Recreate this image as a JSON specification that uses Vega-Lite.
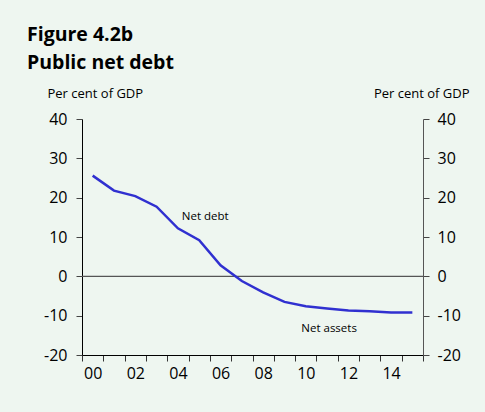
{
  "$schema": "https://vega.github.io/schema/vega-lite/v6.json",
  "width": 341,
  "height": 236,
  "autosize": {"type": "none"},
  "padding": {"left": 82, "top": 119, "right": 62, "bottom": 57},
  "background": "#eef6f0",
  "config": {
    "view": {"stroke": null},
    "font": "Open Sans",
    "axis": {"grid": false, "labelFont": "Open Sans", "titleFont": "Open Sans", "labelColor": "#000", "titleColor": "#000"}
  },
  "title": {
    "text": ["Figure 4.2b", "Public net debt"],
    "anchor": "start",
    "frame": "group",
    "font": "Open Sans",
    "fontSize": 19.5,
    "fontWeight": "bold",
    "color": "#000",
    "lineHeight": 28,
    "dx": -55,
    "offset": 14
  },
  "datasets": {
    "debt": [
      {"year": "2000", "value": 25.6},
      {"year": "2001", "value": 21.8},
      {"year": "2002", "value": 20.4},
      {"year": "2003", "value": 17.7},
      {"year": "2004", "value": 12.2},
      {"year": "2005", "value": 9.2},
      {"year": "2006", "value": 2.8},
      {"year": "2007", "value": -1.2},
      {"year": "2008", "value": -4.1},
      {"year": "2009", "value": -6.5},
      {"year": "2010", "value": -7.6},
      {"year": "2011", "value": -8.2},
      {"year": "2012", "value": -8.7},
      {"year": "2013", "value": -8.9},
      {"year": "2014", "value": -9.2},
      {"year": "2015", "value": -9.2}
    ],
    "zero": [{"value": 0}],
    "lab1": [{"year": "2005", "value": 15.2, "label": "Net debt"}],
    "lab2": [{"year": "2011", "value": -13.3, "label": "Net assets"}]
  },
  "layer": [
    {
      "data": {"name": "zero"},
      "mark": {"type": "rule", "color": "#555", "strokeWidth": 1.2},
      "encoding": {
        "y": {
          "field": "value",
          "type": "quantitative",
          "scale": {"domain": [-20, 40], "nice": false},
          "axis": {
            "orient": "left",
            "values": [-20, -10, 0, 10, 20, 30, 40],
            "labelExpr": "'' + datum.value",
            "labelFontSize": 16,
            "labelPadding": 9,
            "tickSize": 6,
            "tickColor": "#444",
            "domainColor": "#000",
            "title": "Per cent of GDP",
            "titleAngle": 0,
            "titleAlign": "left",
            "titleBaseline": "alphabetic",
            "titleFontSize": 13,
            "titleFontWeight": "normal",
            "titleX": -35,
            "titleY": -22
          }
        }
      }
    },
    {
      "data": {"name": "debt"},
      "mark": {"type": "line", "color": "#3030d0", "strokeWidth": 2.5},
      "encoding": {
        "x": {
          "field": "year",
          "type": "ordinal",
          "bandPosition": 0.5,
          "scale": {"type": "band", "paddingInner": 0, "paddingOuter": 0},
          "axis": {
            "title": null,
            "tickBand": "extent",
            "labelExpr": "parseInt(datum.value) % 2 == 0 ? slice(datum.value, 2) : ''",
            "labelAngle": 0,
            "labelOverlap": false,
            "labelFontSize": 16,
            "labelPadding": 4,
            "domainColor": "#000",
            "tickColor": "#333",
            "tickSize": 6
          }
        },
        "y": {
          "field": "value",
          "type": "quantitative",
          "axis": {
            "orient": "right",
            "values": [-20, -10, 0, 10, 20, 30, 40],
            "labelExpr": "'' + datum.value",
            "labelFontSize": 16,
            "labelPadding": 8,
            "tickSize": 6,
            "tickColor": "#444",
            "domainColor": "#555",
            "title": "Per cent of GDP",
            "titleAngle": 0,
            "titleAlign": "right",
            "titleBaseline": "alphabetic",
            "titleFontSize": 13,
            "titleFontWeight": "normal",
            "titleX": 46,
            "titleY": -22
          }
        }
      }
    },
    {
      "data": {"name": "lab1"},
      "mark": {"type": "text", "fontSize": 11.5, "color": "#000", "dx": 6},
      "encoding": {
        "x": {"field": "year", "type": "ordinal", "bandPosition": 0.5},
        "y": {"field": "value", "type": "quantitative", "axis": null},
        "text": {"field": "label"}
      }
    },
    {
      "data": {"name": "lab2"},
      "mark": {"type": "text", "fontSize": 11.5, "color": "#000", "dx": 2},
      "encoding": {
        "x": {"field": "year", "type": "ordinal", "bandPosition": 0.5},
        "y": {"field": "value", "type": "quantitative", "axis": null},
        "text": {"field": "label"}
      }
    }
  ],
  "resolve": {"axis": {"y": "independent"}}
}
